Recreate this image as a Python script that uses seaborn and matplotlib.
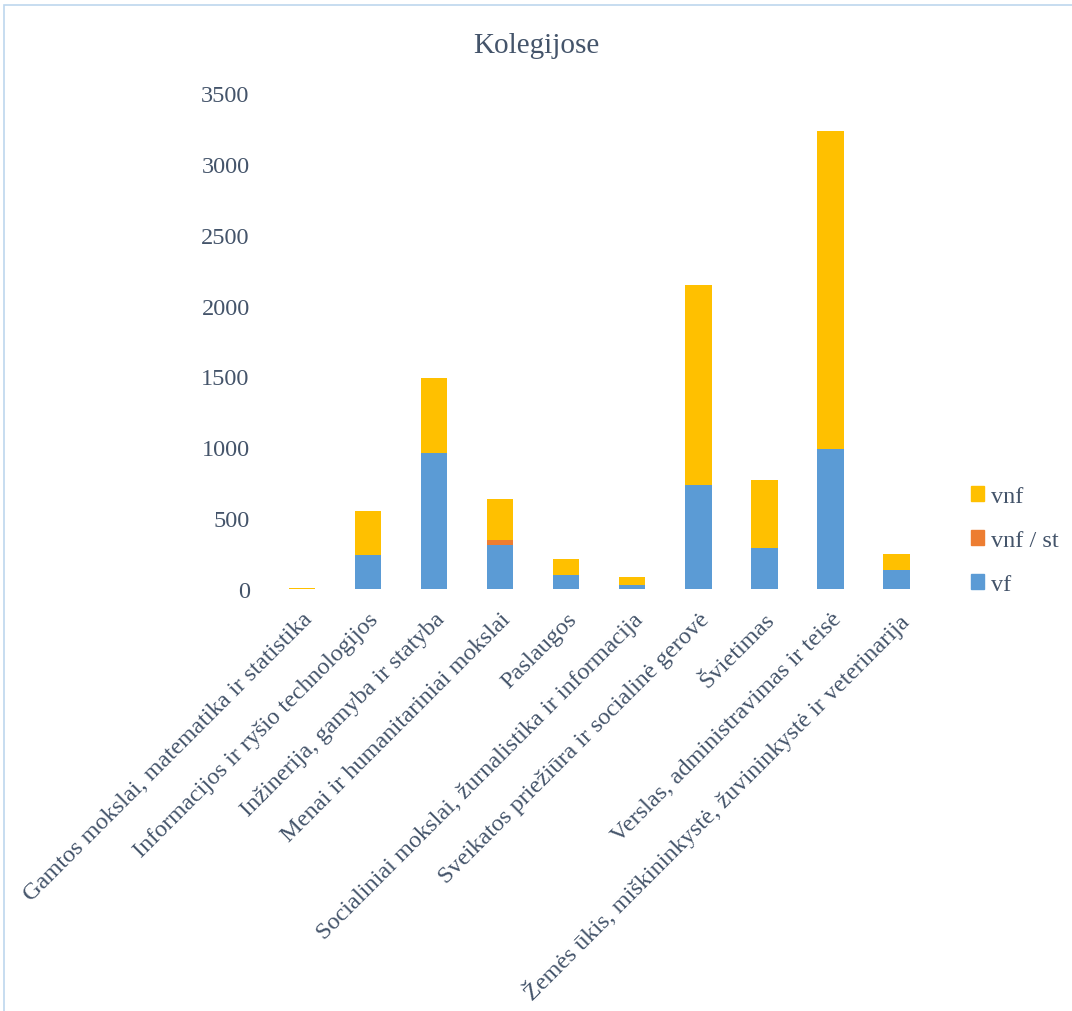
import matplotlib
matplotlib.use('Agg')
import matplotlib.pyplot as plt
import seaborn as sns
import numpy as np
import pandas as pd
from matplotlib.patches import Patch, Rectangle

# duomenys (nuskaityta nuo grafiko)
kategorijos = [
    'Gamtos mokslai, matematika ir statistika',
    'Informacijos ir ryšio technologijos',
    'Inžinerija, gamyba ir statyba',
    'Menai ir humanitariniai mokslai',
    'Paslaugos',
    'Socialiniai mokslai, žurnalistika ir informacija',
    'Sveikatos priežiūra ir socialinė gerovė',
    'Švietimas',
    'Verslas, administravimas ir teisė',
    'Žemės ūkis, miškininkystė, žuvininkystė ir veterinarija',
]
vf = [3, 238, 958, 311, 100, 30, 732, 288, 986, 133]
vnf_st = [0, 0, 0, 33, 0, 0, 0, 0, 0, 0]
vnf = [4, 316, 532, 294, 110, 56, 1412, 484, 2250, 112]

spalvos = {'vnf': '#FFC000', 'vnf / st': '#ED7D31', 'vf': '#5B9BD5'}
teksto_spalva = '#44546A'

df = pd.DataFrame({'kategorija': kategorijos, 'vf': vf, 'vnf_st': vnf_st, 'vnf': vnf})
df['vf_st'] = df['vf'] + df['vnf_st']
df['viso'] = df['vf_st'] + df['vnf']

sns.set_style('white')
plt.rcParams['font.family'] = ['Liberation Serif', 'DejaVu Serif']

fig = plt.figure(figsize=(10.72, 10.12), dpi=100)
ax = fig.add_axes([0.251, 0.417, 0.616, 0.490])

# sukrauti stulpeliai: piešiama nuo viršaus žemyn
for stulp, spalva in [('viso', 'vnf'), ('vf_st', 'vnf / st'), ('vf', 'vf')]:
    sns.barplot(data=df, x='kategorija', y=stulp, color=spalvos[spalva], width=0.4,
                saturation=1, ax=ax, errorbar=None, linewidth=0)

ax.set_ylim(0, 3500)
ax.set_yticks(np.arange(0, 3501, 500))
ax.set_xlabel('')
ax.set_ylabel('')
sns.despine(ax=ax, left=True, bottom=True)
ax.tick_params(axis='both', length=0, labelsize=17.5, colors=teksto_spalva)
ax.tick_params(axis='y', pad=14)
ax.tick_params(axis='x', pad=14)
plt.setp(ax.get_xticklabels(), rotation=45, ha='right', rotation_mode='anchor')

fig.text(0.5, 0.955, 'Kolegijose', ha='center', va='center', fontsize=21,
         color=teksto_spalva)

handles = [Patch(color=spalvos[k]) for k in ['vnf', 'vnf / st', 'vf']]
leg = fig.legend(handles, ['vnf', 'vnf / st', 'vf'], loc='center left',
                 bbox_to_anchor=(0.885, 0.465), frameon=False, fontsize=17.5,
                 handlelength=0.55, handleheight=0.55, handletextpad=0.3,
                 labelspacing=0.95)
for t in leg.get_texts():
    t.set_color(teksto_spalva)

# rėmelis aplink diagramą
fig.patches.append(Rectangle((4 / 1072, -0.05), 1.2, 1.05 - 6 / 1012,
                             transform=fig.transFigure, fill=False,
                             edgecolor='#BDD7EE', linewidth=1.2))

fig.savefig('out.png', dpi=100)
